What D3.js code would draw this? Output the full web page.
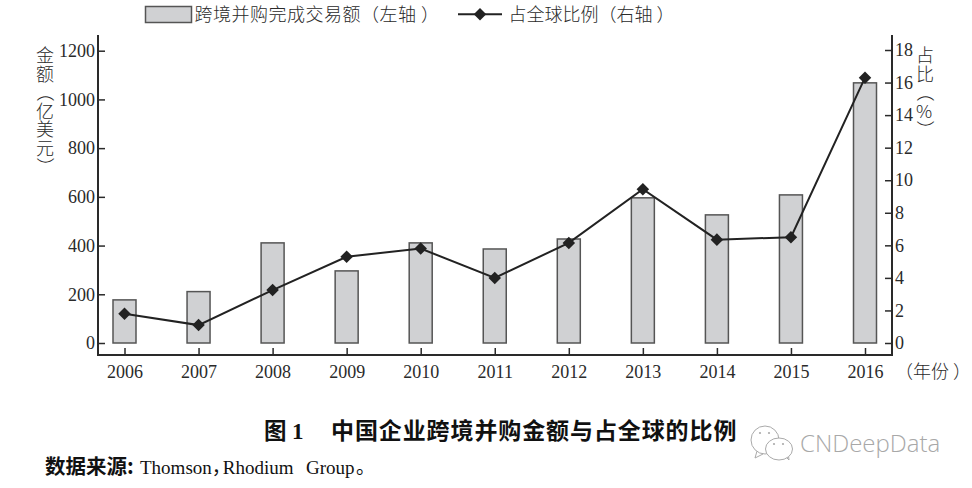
<!DOCTYPE html>
<html>
<head>
<meta charset="utf-8">
<style>
  html, body { margin: 0; padding: 0; background: #fff; }
  text { font-family: "Liberation Serif", "Noto Sans CJK SC", serif; fill: #2a2a2a; }
  .cjk { font-family: "Noto Sans CJK SC", sans-serif; font-weight: 300; }
  .bold { font-family: "Noto Sans CJK SC", sans-serif; font-weight: 700; fill: #111; }
</style>
</head>
<body>
<div id="chart"></div>
<script src="https://cdn.jsdelivr.net/npm/d3@7"></script>
<script>
const years = ['2006','2007','2008','2009','2010','2011','2012','2013','2014','2015','2016'];
const amounts = [177, 211, 411, 296, 411, 386, 427, 596, 526, 608, 1068];
const shares = [1.8, 1.1, 3.25, 5.3, 5.8, 4.0, 6.15, 9.45, 6.35, 6.5, 16.3];
const amountTicks = [0, 200, 400, 600, 800, 1000, 1200];
const shareTicks = [0, 2, 4, 6, 8, 10, 12, 14, 16, 18];

const width = 972, height = 488;
const axisLeft = 98, axisRight = 892, axisBottom = 355, axisTop = 35;
const barWidth = 23;

const svg = d3.select('#chart').append('svg')
  .attr('width', width).attr('height', height)
  .style('display', 'block');

const x = d3.scalePoint().domain(years).range([124.5, 865]);
const yLeft = d3.scaleLinear().domain([0, 1200]).range([343, 50.7]);
const yRight = d3.scaleLinear().domain([0, 18]).range([343, 50]);

// bars
svg.append('g').selectAll('rect')
  .data(amounts)
  .enter().append('rect')
    .attr('x', (d, i) => x(years[i]) - barWidth / 2)
    .attr('y', d => yLeft(d))
    .attr('width', barWidth)
    .attr('height', d => yLeft(0) - yLeft(d))
    .attr('fill', '#d0d1d3')
    .attr('stroke', '#555')
    .attr('stroke-width', 1.5);

function styleAxis(g) {
  g.selectAll('.domain').remove();
  g.selectAll('line').attr('stroke', '#2a2a2a').attr('stroke-width', 1.5);
  g.selectAll('text').attr('font-size', 18).attr('fill', '#2a2a2a')
    .attr('font-family', '"Liberation Serif", serif');
}

// axis frame
svg.append('path')
  .attr('d', d3.line()([[axisLeft, axisTop], [axisLeft, axisBottom], [axisRight, axisBottom], [axisRight, axisTop]]))
  .attr('fill', 'none').attr('stroke', '#2a2a2a').attr('stroke-width', 2);

svg.append('g')
  .attr('transform', `translate(${axisLeft},0)`)
  .call(d3.axisRight(yLeft).tickValues(amountTicks).tickSize(7).tickFormat(d3.format('d')))
  .call(styleAxis)
  .selectAll('text').attr('x', -3).attr('text-anchor', 'end');

svg.append('g')
  .attr('transform', `translate(${axisRight},0)`)
  .call(d3.axisLeft(yRight).tickValues(shareTicks).tickSize(7).tickFormat(d3.format('d')))
  .call(styleAxis)
  .selectAll('text').attr('x', 3).attr('text-anchor', 'start');

svg.append('g')
  .attr('transform', `translate(0,${axisBottom})`)
  .call(d3.axisTop(x).tickSize(7))
  .call(styleAxis)
  .selectAll('text').attr('y', 17).attr('dy', '0.35em').attr('text-anchor', 'middle');

// share line
const line = d3.line()
  .x((d, i) => x(years[i]))
  .y(d => yRight(d));

svg.append('path')
  .datum(shares)
  .attr('d', line)
  .attr('fill', 'none')
  .attr('stroke', '#222')
  .attr('stroke-width', 2);

const diamond = d3.symbol().type(d3.symbolDiamond2).size(100);
svg.append('g').selectAll('path')
  .data(shares)
  .enter().append('path')
    .attr('d', diamond)
    .attr('transform', (d, i) => `translate(${x(years[i])},${yRight(d)})`)
    .attr('fill', '#222');

// legend
svg.append('rect')
  .attr('x', 145.5).attr('y', 6.5).attr('width', 46).attr('height', 16)
  .attr('fill', '#d0d1d3').attr('stroke', '#555').attr('stroke-width', 1.5);
svg.append('text').attr('class', 'cjk')
  .attr('x', 194.5).attr('y', 20.5).attr('font-size', 18)
  .style('letter-spacing', '0.5px')
  .text('跨境并购完成交易额（左轴 ）');
svg.append('line')
  .attr('x1', 458).attr('x2', 502).attr('y1', 14.3).attr('y2', 14.3)
  .attr('stroke', '#222').attr('stroke-width', 2);
svg.append('path')
  .attr('d', diamond)
  .attr('transform', 'translate(480,14.3)')
  .attr('fill', '#222');
svg.append('text').attr('class', 'cjk')
  .attr('x', 508.5).attr('y', 20.5).attr('font-size', 18)
  .text('占全球比例（右轴 ）');

// vertical axis titles: one text element, each glyph placed, parens turned
function verticalText(cx, top, chars, pitch) {
  const isParen = c => c === '（' || c === '）';
  svg.append('text').attr('class', 'cjk')
    .attr('font-size', 18)
    .attr('x', chars.map(c => isParen(c) ? cx - 6.5 : cx - 9).join(' '))
    .attr('y', chars.map((c, i) => {
      const cy = top + i * pitch;
      return isParen(c) ? cy - 9 : cy + 6.5;
    }).join(' '))
    .attr('rotate', chars.map(c => isParen(c) ? 90 : 0).join(' '))
    .text(chars.join(''));
}
verticalText(45, 55.5, ['金', '额', '（', '亿', '美', '元', '）'], 18.5);
verticalText(925, 55.5, ['占', '比', '（', '%', '）'], 18.5);

svg.append('text').attr('class', 'cjk')
  .attr('x', 895).attr('y', 378).attr('font-size', 18)
  .text('（年份 ）');

// caption
svg.append('text').attr('class', 'bold')
  .attr('x', 264).attr('y', 439).attr('font-size', 22.5)
  .text('图');
svg.append('text')
  .attr('x', 292).attr('y', 439)
  .attr('font-size', 23).attr('font-weight', 700)
  .style('fill', '#111')
  .text('1');
svg.append('text').attr('class', 'bold')
  .attr('x', 331).attr('y', 439).attr('font-size', 23)
  .style('letter-spacing', '0.9px')
  .text('中国企业跨境并购金额与占全球的比例');

// source line
svg.append('text').attr('class', 'bold')
  .attr('x', 45).attr('y', 473.5).attr('font-size', 20.5)
  .text('数据来源:');
const source = svg.append('text').attr('y', 473.5).attr('font-size', 19).style('fill', '#111');
source.append('tspan').attr('x', 140).text('Thomson');
source.append('tspan')
  .style('font-family', '"Noto Sans CJK SC", sans-serif')
  .style('letter-spacing', '-8px')
  .text('，');
source.append('tspan').text('Rhodium');
source.append('tspan').attr('x', 306).text('Group');
source.append('tspan').attr('x', 356).style('font-family', '"Noto Sans CJK SC", sans-serif').text('。');

// watermark
const mark = svg.append('g').attr('fill', '#fff').attr('stroke', '#aaa').attr('stroke-width', 1);
mark.append('path').attr('d', 'M757 451 L755 458 L763 454');
mark.append('ellipse').attr('cx', 765).attr('cy', 440).attr('rx', 14).attr('ry', 14);
mark.append('path').attr('d', 'M784 455 L789 460 L788 452');
mark.append('ellipse').attr('cx', 779).attr('cy', 449).attr('rx', 13.5).attr('ry', 11);
[[760, 433], [769, 433], [774, 444], [783, 444]].forEach(p => {
  svg.append('circle').attr('cx', p[0]).attr('cy', p[1]).attr('r', 1.1).attr('fill', '#aaa');
});
svg.append('text')
  .attr('x', 800).attr('y', 452)
  .attr('font-size', 24)
  .style('font-family', '"Open Sans", sans-serif')
  .style('font-weight', 300)
  .style('fill', '#a8a8a8')
  .text('CNDeepData');
</script>
</body>
</html>
